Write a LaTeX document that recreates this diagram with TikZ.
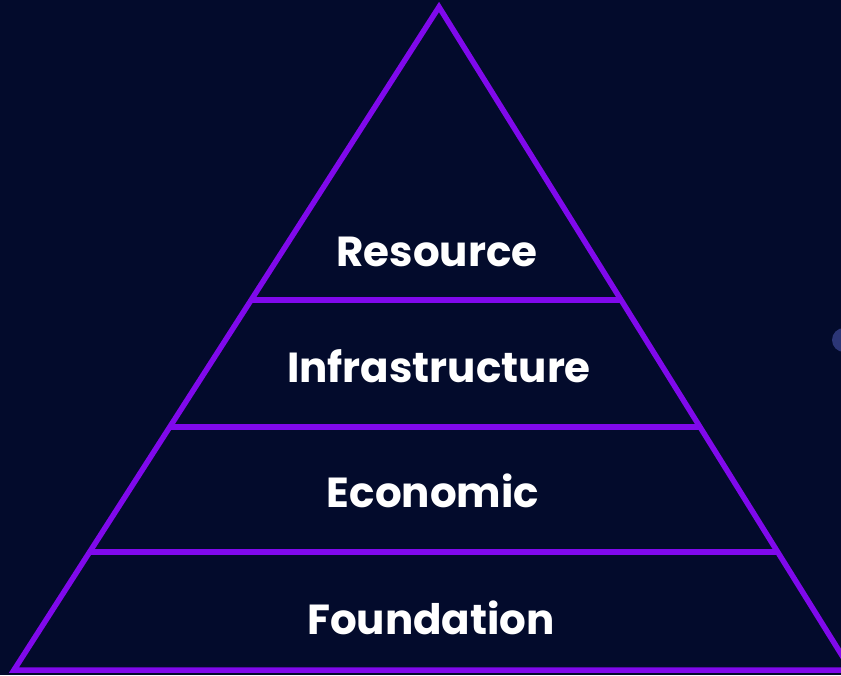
\documentclass[tikz,border=0pt]{standalone}
\usepackage{fontspec}
\setmainfont{Poppins}[UprightFont=* SemiBold, BoldFont=* Bold]
\definecolor{bgnavy}{HTML}{030B2C}
\definecolor{tiervio}{HTML}{8009EC}
\definecolor{dotblue}{HTML}{2C3676}
\begin{document}
\begin{tikzpicture}[x=1pt,y=1pt,
  tierline/.style={draw=tiervio,line width=5.5pt,line join=miter},
  tierlabel/.style={text=white,font=\bfseries\fontsize{42}{47}\selectfont,inner sep=0pt,anchor=base}]
\useasboundingbox (0,0) rectangle (841,675);
\fill[bgnavy] (0,0) rectangle (841,675);
\begin{scope}
\clip (0,0) rectangle (841,675);
% pyramid outline
\coordinate (apex) at (439,668);
\coordinate (bl) at (14,5);
\coordinate (br) at (851,5);
\draw[tierline] (bl) -- (apex) -- (br) -- cycle;
% tier dividers
\coordinate (d1l) at (251,375); \coordinate (d1r) at (621,375);
\coordinate (d2l) at (170,248); \coordinate (d2r) at (700,248);
\coordinate (d3l) at (90,123);  \coordinate (d3r) at (778,123);
\draw[tierline] (d1l) -- (d1r);
\draw[tierline] (d2l) -- (d2r);
\draw[tierline] (d3l) -- (d3r);
% side dot
\fill[dotblue] (844,335) circle (12);
\end{scope}
% tier labels
\node[tierlabel] (resource) at (437,408) {Resource};
\node[tierlabel] (infra) at (439,292) {Infrastructure};
\node[tierlabel] (economic) at (433,167) {Economic};
\node[tierlabel] (foundation) at (431,40) {Foundation};
\end{tikzpicture}
\end{document}
